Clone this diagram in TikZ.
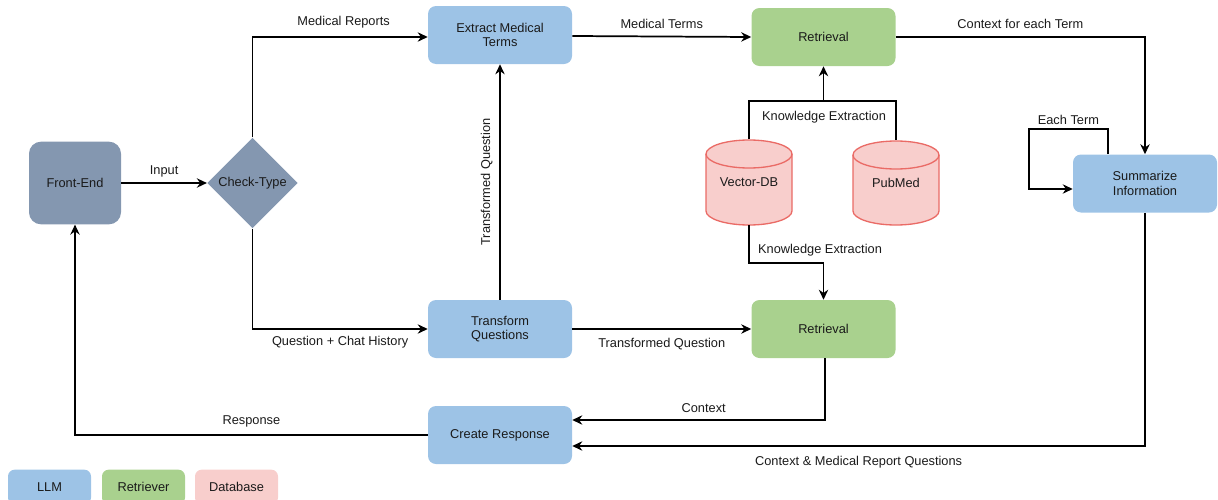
\documentclass[tikz,border=0pt]{standalone}
\usepackage{fontspec}
\setmainfont{Liberation Sans}
\usetikzlibrary{shapes.geometric,arrows.meta,calc}
\definecolor{llmc}{HTML}{9DC3E6}
\definecolor{retc}{HTML}{A9D18E}
\definecolor{dbc}{HTML}{F8CECC}
\definecolor{dbline}{HTML}{EA6B66}
\definecolor{fec}{HTML}{8497B0}
\definecolor{txt}{HTML}{1A1A1A}
\tikzset{
  box/.style={rectangle, rounded corners=6pt, minimum width=108pt, minimum height=43.5pt, align=center, text=txt, inner sep=1pt, font=\fontsize{9.6}{11}\selectfont},
  llm/.style={box, fill=llmc},
  retr/.style={box, fill=retc},
  fest/.style={box, fill=fec, minimum width=69pt, minimum height=62pt, rounded corners=9pt},
  dec/.style={diamond, fill=fec, minimum width=68pt, minimum height=68pt, inner sep=0pt, text=txt, font=\fontsize{9.6}{11}\selectfont},
  dbnode/.style={rectangle, minimum width=64.5pt, minimum height=63.75pt, inner sep=0pt, text=txt, font=\fontsize{9.6}{11}\selectfont},
  dbshape/.style={fill=dbc, draw=dbline, line width=1pt},
  arr/.style={draw=black, line width=1.3pt, -{Stealth[length=7.5pt,width=7pt]}},
  ln/.style={draw=black, line width=1.3pt},
  lab/.style={text=txt, font=\fontsize{9.6}{11}\selectfont, inner sep=1pt},
  leg/.style={rectangle, rounded corners=5pt, minimum width=62.25pt, minimum height=26pt, text=txt, font=\fontsize{9.6}{11}\selectfont}
}
\begin{document}
\begin{tikzpicture}[x=0.75pt,y=-0.75pt]
\useasboundingbox (0,0) rectangle (1218,500);
\clip (0,0) rectangle (1218,500);
% nodes
\node[fest] (fe) at (75,183) {Front-End};
\node[dec] (ct) at (252.5,183) {Check-Type};
\node[llm] (emt) at (500,35) {Extract Medical\\Terms};
\node[retr] (ret1) at (823.5,37) {Retrieval};
\node[llm] (sum) at (1145,183.5) {Summarize\\Information};
\node[llm] (tq) at (500,329) {Transform\\Questions};
\node[retr] (ret2) at (823.5,329) {Retrieval};
\node[llm] (cr) at (500,435) {Create Response};
% cylinders
\draw[dbshape] (706,154) -- (706,211) arc[start angle=180, end angle=0, x radius=43, y radius=14] -- (792,154) arc[start angle=0, end angle=-180, x radius=43, y radius=14] -- cycle;
\draw[dbshape, fill=none] (706,154) arc[start angle=180, end angle=0, x radius=43, y radius=14];
\draw[dbshape] (853,155) -- (853,211) arc[start angle=180, end angle=0, x radius=43, y radius=14] -- (939,155) arc[start angle=0, end angle=-180, x radius=43, y radius=14] -- cycle;
\draw[dbshape, fill=none] (853,155) arc[start angle=180, end angle=0, x radius=43, y radius=14];
\node[dbnode] (vdb) at (749,182.5) {\raisebox{-5pt}{Vector-DB}};
\node[dbnode] (pm) at (896,183) {\raisebox{-5pt}{PubMed}};
% legend
\node[leg, fill=llmc] (l1) at (49.5,487) {LLM};
\node[leg, fill=retc] (l2) at (143.5,487) {Retriever};
\node[leg, fill=dbc] (l3) at (236.5,487) {Database};
% connectors
\draw[arr] (fe.east) -- node[lab, above=3pt]{Input} (ct.west);
\draw[arr] (ct.north) |- node[lab, pos=0.76, above=5pt]{Medical Reports} ($(emt.west)+(0,2)$);
\draw[arr] ($(emt.east)+(0,1)$) -- node[lab, above=4pt]{Medical Terms} ($(ret1.west)+(0,0)$);
\draw[arr] (ret1.east) -| node[lab, pos=0.25, above=5pt]{Context for each Term} (sum.north);
\draw[arr] ($(sum.north)+(-37,0)$) -- ++(0,-25) -| node[lab, pos=0.25, above=2pt]{Each Term} ($(sum.west)+(-44,5.5)$) -- ($(sum.west)+(0,5.5)$);
\coordinate (kt) at (823.5,101);
\draw[ln] ($(vdb.north)+(0,-0.5)$) |- (kt) -| ($(pm.north)+(0,0)$);
\draw[arr] (kt) -- (ret1.south);
\node[lab] at (824,117) {Knowledge Extraction};
\draw[arr] (vdb.south) |- ($(ret2.north)+(0,-37)$) -- (ret2.north);
\node[lab] at (820,250) {Knowledge Extraction};
\draw[arr] (tq.north) -- node[lab, sloped, above=4pt, pos=0.5]{Transformed Question} (emt.south);
\draw[arr] (ct.south) |- node[lab, pos=0.75, below=4pt]{Question + Chat History} (tq.west);
\draw[arr] (tq.east) -- node[lab, below=5pt]{Transformed Question} (ret2.west);
\draw[arr] ($(ret2.south)+(1.5,0)$) |- node[lab, pos=0.74, above=4pt]{Context} ($(cr.east)+(0,-15)$);
\draw[arr] (sum.south) |- node[lab, pos=0.75, below=6pt]{Context \& Medical Report Questions} ($(cr.east)+(0,11)$);
\draw[arr] (cr.west) -| node[lab, pos=0.25, above=4pt]{Response} (fe.south);
\end{tikzpicture}
\end{document}
